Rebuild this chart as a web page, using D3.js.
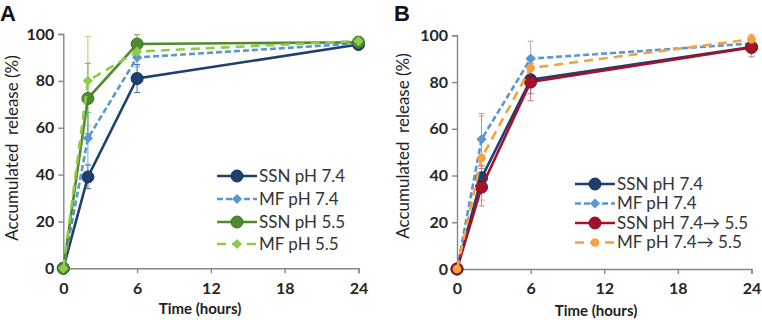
<!DOCTYPE html>
<html>
<head>
<meta charset="utf-8">
<script src="https://cdn.jsdelivr.net/npm/d3@7"></script>
<style>
  body { margin: 0; background: #fff; }
  svg { display: block; font-family: Lato, "Open Sans", sans-serif; }
</style>
</head>
<body>
<script>
// time points (hours)
const times = [0, 2, 6, 24];
const xTicks = [0, 6, 12, 18, 24];
const yTicks = [0, 20, 40, 60, 80, 100];

// panel A
const ssn74A = [0, 39, 81, 95.5];
const ssn74AErr = [0, 5, 6, 2];
const mf74A = [0, 55.5, 90, 96];
const mf74AErr = [0, 11, 4, 2];
const ssn55A = [0, 72.5, 95.7, 96.5];
const ssn55AErr = [0, 15, 4, 2];
const mf55A = [0, 80, 92.5, 97];
const mf55AErr = [0, 19, 3, 2];

// panel B
const ssn74B = [0, 39, 81, 95];
const ssn74BErr = [0, 5, 6, 2];
const mf74B = [0, 55.5, 90, 96.5];
const mf74BErr = [0, 11, 7.5, 2];
const ssnShiftB = [0, 35, 80, 94.8];
const ssnShiftBErr = [0, 8, 8, 4];
const mfShiftB = [0, 47.5, 86, 98.3];
const mfShiftBErr = [0, 18, 5, 2];

const navy = "#1f3f6e", blue = "#5a96d4", green = "#4f8a2f",
  lightGreen = "#8fcb4a", red = "#a3112b", orange = "#f4a13f";

const w = 762, h = 320;
const svg = d3.select("body").append("svg").attr("width", w).attr("height", h);

const buildPanel = (opt) => {
  const x = d3.scaleLinear().domain([0, 24]).range(opt.xr);
  const y = d3.scaleLinear().domain([0, 100]).range(opt.yr);
  const g = svg.append("g");

  // axes
  const yAxis = g.append("g")
    .attr("transform", "translate(" + opt.xr[0] + ",0)")
    .call(d3.axisLeft(y).tickValues(yTicks).tickSize(5).tickPadding(4));
  const xAxis = g.append("g")
    .attr("transform", "translate(0," + opt.yr[0] + ")")
    .call(d3.axisBottom(x).tickValues(xTicks).tickSize(5).tickPadding(9));
  [xAxis, yAxis].forEach(function (a) {
    a.selectAll("path, line").attr("stroke", "#878787").attr("stroke-width", 1.4);
    a.selectAll("text")
      .attr("fill", "#262626")
      .style("font-size", "16px")
      .style("font-weight", "bold")
      .style("font-family", "Lato, sans-serif");
  });

  // error bars
  opt.series.forEach(function (s) {
    const eb = g.append("g").attr("stroke", s.errColor || s.color).attr("stroke-width", 1).attr("opacity", 0.8);
    times.forEach(function (t, i) {
      if (!s.err[i]) return;
      const cx = x(t), y1 = y(s.values[i] - s.err[i]), y2 = y(s.values[i] + s.err[i]);
      eb.append("line").attr("x1", cx).attr("x2", cx).attr("y1", y1).attr("y2", y2);
      eb.append("line").attr("x1", cx - 3).attr("x2", cx + 3).attr("y1", y1).attr("y2", y1);
      eb.append("line").attr("x1", cx - 3).attr("x2", cx + 3).attr("y1", y2).attr("y2", y2);
    });
  });

  const line = d3.line().x(function (d) { return x(d[0]); }).y(function (d) { return y(d[1]); });

  const drawMarker = function (sel, s, cx, cy) {
    if (s.marker === "circle") {
      sel.append("circle").attr("cx", cx).attr("cy", cy).attr("r", 6)
        .attr("fill", s.color).attr("stroke", s.stroke || s.color).attr("stroke-width", 1);
    } else if (s.marker === "diamond") {
      sel.append("path").attr("d", d3.symbol(d3.symbolSquare, 52)())
        .attr("transform", "translate(" + cx + "," + cy + ") rotate(45)")
        .attr("fill", s.color);
    } else {
      sel.append("path").attr("d", d3.symbol(d3.symbolCircle, 60)())
        .attr("transform", "translate(" + cx + "," + cy + ")")
        .attr("fill", s.color);
    }
  };

  opt.series.forEach(function (s) {
    g.append("path")
      .datum(times.map(function (t, i) { return [t, s.values[i]]; }))
      .attr("fill", "none")
      .attr("stroke", s.color)
      .attr("stroke-width", 2.6)
      .attr("stroke-dasharray", s.dash || null)
      .attr("d", line);
    times.forEach(function (t, i) { drawMarker(g, s, x(t), y(s.values[i])); });
  });

  // titles
  g.append("text")
    .attr("transform", "translate(" + opt.yTitle[0] + "," + opt.yTitle[1] + ") rotate(-90)")
    .attr("text-anchor", "middle")
    .attr("fill", "#1e1e1e")
    .style("font-size", "17px")
    .style("white-space", "pre")
    .text("Accumulated  release (%)");
  g.append("text")
    .attr("x", opt.xTitle[0]).attr("y", opt.xTitle[1])
    .attr("text-anchor", "middle")
    .attr("fill", "#1e1e1e")
    .style("font-size", "15px")
    .style("font-weight", "bold")
    .text("Time (hours)");
  g.append("text")
    .attr("x", opt.label[0]).attr("y", opt.label[1])
    .attr("fill", "#111")
    .style("font-size", "22px")
    .style("font-weight", "bold")
    .style("font-family", "'Liberation Sans', Arial, sans-serif")
    .text(opt.labelText);

  // legend
  const lg = g.append("g");
  opt.series.forEach(function (s, i) {
    const ly = opt.legend.ys[i], lx = opt.legend.x;
    lg.append("line").attr("x1", lx).attr("x2", lx + 40).attr("y1", ly).attr("y2", ly)
      .attr("stroke", s.color).attr("stroke-width", 2.6)
      .attr("stroke-dasharray", s.dash || null);
    drawMarker(lg, s, lx + 20, ly);
    lg.append("text").attr("x", lx + 42).attr("y", ly).attr("dy", "0.35em")
      .attr("fill", "#333")
      .style("font-size", "17px")
      .text(s.name);
  });
};

buildPanel({
  xr: [63.3, 358.5], yr: [268.3, 34],
  yTitle: [17.5, 148], xTitle: [200, 314], label: [0, 20.5], labelText: "A",
  legend: { x: 217, ys: [176, 199, 222, 244] },
  series: [
    { name: "SSN pH 7.4", values: ssn74A, err: ssn74AErr, color: navy, marker: "circle", stroke: "#14305a" },
    { name: "MF pH 7.4", values: mf74A, err: mf74AErr, color: blue, marker: "diamond", dash: "6,3" },
    { name: "SSN pH 5.5", values: ssn55A, err: ssn55AErr, color: green, marker: "circle", stroke: "#3e7025" },
    { name: "MF pH 5.5", values: mf55A, err: mf55AErr, color: lightGreen, marker: "diamond", dash: "9,6" }
  ]
});

buildPanel({
  xr: [457, 751.5], yr: [269, 35.3],
  yTitle: [409, 146], xTitle: [596, 316], label: [394, 21], labelText: "B",
  legend: { x: 575, ys: [184, 203.5, 223, 242.5] },
  series: [
    { name: "SSN pH 7.4", values: ssn74B, err: ssn74BErr, color: navy, marker: "circle", stroke: "#14305a", errColor: "#6b6080" },
    { name: "MF pH 7.4", values: mf74B, err: mf74BErr, color: blue, marker: "diamond", dash: "6,3", errColor: "#9a88c0" },
    { name: "SSN pH 7.4\u2192 5.5", values: ssnShiftB, err: ssnShiftBErr, color: red, marker: "circle", stroke: "#80101f", errColor: "#b06070" },
    { name: "MF pH 7.4\u2192 5.5", values: mfShiftB, err: mfShiftBErr, color: orange, marker: "dot", dash: "9,6", errColor: "#ee8070" }
  ]
});
</script>
</body>
</html>
